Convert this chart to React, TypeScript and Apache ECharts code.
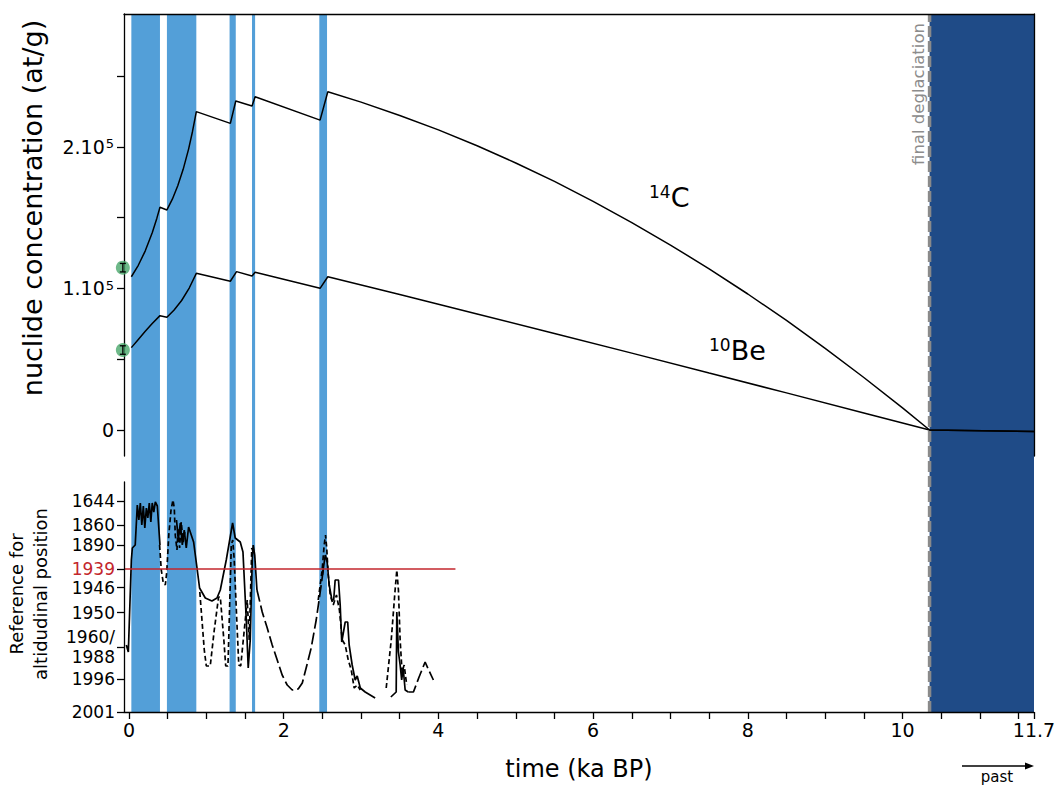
import React, { useEffect, useRef } from 'react';
import * as echarts from 'echarts';

const FONT = 'DejaVu Sans';
const X_MIN = -0.065;
const X_MAX = 11.7;
const DEGLACIATION = 10.35;

// shaded periods (ka BP)
const lightBands = [[0.03, 0.40], [0.49, 0.87], [1.30, 1.38], [1.59, 1.63], [2.46, 2.56]];
const darkBands = [[10.35, 11.7]];

// nuclide concentrations (x: ka BP, y: 1e5 at/g)
const c14 = [
  [0.03, 1.083], [0.12, 1.164], [0.21, 1.266], [0.30, 1.394], [0.36, 1.497], [0.40, 1.574], [0.49, 1.555],
  [0.56, 1.631], [0.63, 1.726], [0.70, 1.842], [0.77, 1.985], [0.82, 2.108], [0.87, 2.25], [1.31, 2.167],
  [1.38, 2.325], [1.59, 2.29], [1.63, 2.355], [2.47, 2.19], [2.57, 2.39], [3.0, 2.317],
  [3.5, 2.223], [4.0, 2.121], [4.5, 2.009], [5.0, 1.887], [5.5, 1.757], [6.0, 1.616],
  [6.5, 1.466], [7.0, 1.307], [7.5, 1.139], [8.0, 0.961], [8.5, 0.774], [9.0, 0.577],
  [9.5, 0.371], [10.0, 0.156], [10.35, 0], [11.7, -0.01],
];
const be10 = [
  [0.03, 0.582], [0.12, 0.64], [0.21, 0.697], [0.30, 0.752], [0.40, 0.808], [0.49, 0.796], [0.58, 0.846],
  [0.68, 0.915], [0.78, 1.005], [0.87, 1.107], [1.31, 1.051], [1.39, 1.119], [1.59, 1.088], [1.63, 1.114],
  [2.47, 1.001], [2.57, 1.083], [3.5, 0.957], [4.5, 0.82], [5.5, 0.682], [6.5, 0.543],
  [7.5, 0.402], [8.5, 0.262], [9.5, 0.12], [10.35, 0], [11.7, -0.01],
];
// measured samples: x, value (1e5 at/g), error (1e5 at/g)
const measured = [[-0.08, 1.147, 0.03], [-0.08, 0.565, 0.03]];

const concTicks = [0, 50000, 100000, 150000, 200000, 250000];
const concLabels = [0, 100000, 200000];

// altitudinal reference axis (positions on the axis scale)
const levelTicks = [0, 32.7, 64.7, 99.3, 124.3, 143, 167, 187, 211];
const levelLabels = ['2001', '1996', '1960/\n1988', '1950', '1946', '1939', '1890', '1860', '1644'];
const refLevel = 143;
const refLineEnd = 4.22;

const solidSegments = [
  [[-0.035, 67], [-0.009, 60], [0.03, 152], [0.043, 164], [0.08, 167], [0.107, 207], [0.127, 192], [0.146, 209], [0.165, 187], [0.185, 206], [0.204, 184], [0.224, 204], [0.243, 194], [0.262, 209], [0.282, 190], [0.30, 209], [0.32, 200], [0.34, 210], [0.366, 206], [0.378, 192], [0.40, 167]],
  [[0.614, 192], [0.637, 172], [0.663, 189], [0.689, 167], [0.714, 182], [0.74, 164], [0.77, 185], [0.835, 170], [0.879, 144], [0.912, 124], [0.986, 114], [1.072, 111], [1.137, 114], [1.18, 122], [1.257, 152], [1.339, 189], [1.373, 174], [1.438, 170], [1.473, 160], [1.516, 92], [1.541, 44], [1.567, 72], [1.593, 152], [1.606, 167], [1.625, 157], [1.654, 122]],
  [[2.50, 137], [2.537, 157], [2.562, 150], [2.588, 127], [2.623, 112], [2.646, 112], [2.665, 132], [2.708, 132], [2.73, 107], [2.75, 70], [2.795, 90], [2.827, 90], [2.846, 67], [2.885, 47], [2.924, 32], [2.95, 36], [2.99, 24], [3.053, 20], [3.182, 14]],
  [[3.385, 15], [3.454, 20], [3.462, 100], [3.483, 60], [3.505, 47], [3.525, 32], [3.544, 44], [3.57, 22], [3.61, 20]],
];
const dashedSegments = [
  [[0.395, 167], [0.417, 142], [0.443, 129], [0.469, 127], [0.488, 140], [0.514, 177], [0.543, 202], [0.568, 212], [0.585, 204], [0.598, 177], [0.62, 162], [0.633, 184], [0.654, 164], [0.675, 190], [0.70, 170], [0.72, 180]],
  [[0.915, 120], [0.973, 62], [0.999, 46], [1.05, 46], [1.102, 82], [1.158, 115], [1.18, 115], [1.226, 72], [1.25, 46], [1.279, 46], [1.296, 92], [1.322, 167], [1.341, 172], [1.36, 152], [1.393, 92], [1.419, 47], [1.444, 46], [1.477, 72], [1.503, 92], [1.528, 112], [1.554, 72], [1.587, 164], [1.606, 160]],
  [[2.446, 112], [2.497, 142], [2.523, 167], [2.54, 177], [2.556, 164], [2.575, 137], [2.601, 117], [2.64, 107], [2.682, 117], [2.72, 102], [2.757, 72], [2.795, 67], [2.834, 52], [2.873, 42], [2.911, 24], [2.95, 27], [2.99, 22]],
  [[3.325, 24], [3.39, 72], [3.44, 122], [3.462, 142], [3.483, 122], [3.505, 72], [3.53, 40], [3.557, 47], [3.59, 27]],
];
const longDashSegments = [
  [[1.654, 122], [1.722, 100], [1.787, 84], [1.851, 67], [1.916, 52], [1.98, 37], [2.045, 27], [2.11, 22], [2.187, 23], [2.24, 29], [2.29, 44], [2.355, 64], [2.42, 92], [2.472, 120], [2.511, 142]],
  [[3.61, 20], [3.677, 20], [3.75, 35], [3.828, 50], [3.88, 41], [3.935, 32]],
];

const xTicks = [0, 0.5, 1, 1.5, 2, 2.5, 3, 3.5, 4, 4.5, 5, 5.5, 6, 6.5, 7, 7.5, 8, 8.5, 9, 9.5, 10, 10.5, 11, 11.5, 11.7];
const xLabels = [0, 2, 4, 6, 8, 10, 11.7];

const LIGHT = '#539fd8';
const DARK = '#1f4b87';
const RED = '#c3262c';

export default function App() {
  const ref = useRef<HTMLDivElement>(null);
  useEffect(() => {
    const chart = echarts.init(ref.current!, undefined, { renderer: 'svg' });
    const axisLine = { show: true, onZero: false, lineStyle: { color: '#000', width: 1.3 } };
    const tickStyle = { color: '#000', width: 1.3 };
    const bandSeries = (data: number[][], color: string) => ({
      type: 'custom', xAxisIndex: 2, yAxisIndex: 3, z: 1, silent: true,
      data,
      renderItem: (_p: any, api: any) => {
        const a = api.coord([api.value(0), 1]);
        const b = api.coord([api.value(1), 0]);
        return { type: 'rect', shape: { x: a[0], y: a[1], width: b[0] - a[0], height: b[1] - a[1] }, style: { fill: color } };
      },
    });
    const seg = (segs: number[][][], type: any) => segs.map((d) => ({
      type: 'line', xAxisIndex: 1, yAxisIndex: 2, z: 5, data: d, symbol: 'none',
      lineStyle: { color: '#000', width: 1.7, type },
    }));
    const option: any = {
      animation: false,
      grid: [
        { left: 124, right: 25, top: 14, height: 442, outerBoundsMode: 'none' },
        { left: 124, right: 25, top: 482, height: 230, outerBoundsMode: 'none' },
        { left: 124, right: 25, top: 14, height: 698, outerBoundsMode: 'none' },
      ],
      xAxis: [
        { gridIndex: 0, type: 'value', min: X_MIN, max: X_MAX, position: 'top', z: 8, axisLine, axisTick: { show: false }, axisLabel: { show: false }, splitLine: { show: false } },
        {
          gridIndex: 1, type: 'value', min: X_MIN, max: X_MAX, position: 'bottom', z: 8, axisLine,
          axisTick: { show: true, customValues: xTicks, length: 7, lineStyle: tickStyle },
          axisLabel: { customValues: xLabels, formatter: (v: number) => String(Math.round(v * 10) / 10), fontSize: 19, fontFamily: FONT, color: '#000', margin: 8 },
          splitLine: { show: false },
          name: 'time (ka BP)', nameLocation: 'middle', nameGap: 45,
          nameTextStyle: { fontSize: 24, fontFamily: FONT, color: '#000' },
        },
        { gridIndex: 2, type: 'value', min: X_MIN, max: X_MAX, show: false },
      ],
      yAxis: [
        {
          gridIndex: 0, type: 'value', min: -18400, max: 294000, position: 'left', z: 8, axisLine,
          axisTick: { show: true, customValues: concTicks, length: 7, lineStyle: tickStyle },
          axisLabel: {
            customValues: concLabels,
            formatter: (v: number) => (v === 0 ? '0' : `{b|${Math.round(v / 1e5)}.10}{s|5}`),
            fontSize: 19, fontFamily: FONT, color: '#000', margin: 10,
            rich: {
              b: { fontSize: 19, fontFamily: FONT, color: '#000' },
              s: { fontSize: 13, fontFamily: FONT, color: '#000', verticalAlign: 'top', padding: [0, 0, 0, 1] },
            },
          },
          splitLine: { show: false },
        },
        { gridIndex: 0, type: 'value', min: -18400, max: 294000, position: 'right', z: 8, axisLine, axisTick: { show: false }, axisLabel: { show: false }, splitLine: { show: false } },
        {
          gridIndex: 1, type: 'value', min: 0, max: 230, position: 'left', z: 8, axisLine,
          axisTick: { show: true, customValues: levelTicks, length: 7, lineStyle: tickStyle },
          axisLabel: {
            customValues: levelTicks,
            formatter: (v: number) => {
              const i = levelTicks.findIndex((t) => Math.abs(t - v) < 0.01);
              if (i < 0) return '';
              return levelTicks[i] === refLevel ? `{red|${levelLabels[i]}}` : levelLabels[i];
            },
            fontSize: 17, fontFamily: FONT, color: '#000', margin: 9, lineHeight: 20,
            rich: { red: { color: RED, fontSize: 17, fontFamily: FONT } },
          },
          splitLine: { show: false },
        },
        { gridIndex: 2, type: 'value', min: 0, max: 1, show: false },
      ],
      series: [
        bandSeries(lightBands, LIGHT),
        bandSeries(darkBands, DARK),
        {
          type: 'line', xAxisIndex: 2, yAxisIndex: 3, z: 2, symbol: 'none', silent: true,
          data: [[DEGLACIATION, 0], [DEGLACIATION, 1]],
          lineStyle: { color: '#8a8a8a', width: 3.5, type: [11, 4] },
        },
        {
          type: 'line', xAxisIndex: 0, yAxisIndex: 0, z: 5, symbol: 'none', name: '14C',
          data: c14.map(([x, y]) => [x, y * 1e5]), lineStyle: { color: '#000', width: 1.5 },
        },
        {
          type: 'line', xAxisIndex: 0, yAxisIndex: 0, z: 5, symbol: 'none', name: '10Be',
          data: be10.map(([x, y]) => [x, y * 1e5]), lineStyle: { color: '#000', width: 1.5 },
        },
        {
          type: 'scatter', xAxisIndex: 0, yAxisIndex: 0, z: 9, clip: false, symbolSize: 14,
          data: measured.map(([x, y]) => [x, y * 1e5]), itemStyle: { color: '#4aa86b' },
        },
        {
          type: 'custom', xAxisIndex: 0, yAxisIndex: 0, z: 10, clip: false,
          data: measured.map(([x, y, e]) => [x, y * 1e5, e * 1e5]),
          renderItem: (_p: any, api: any) => {
            const x = api.value(0), y = api.value(1), e = api.value(2);
            const t = api.coord([x, y + e]);
            const b = api.coord([x, y - e]);
            const st = { stroke: '#000', lineWidth: 1.3 };
            return {
              type: 'group', children: [
                { type: 'line', shape: { x1: t[0], y1: t[1], x2: b[0], y2: b[1] }, style: st },
                { type: 'line', shape: { x1: t[0] - 3, y1: t[1], x2: t[0] + 3, y2: t[1] }, style: st },
                { type: 'line', shape: { x1: b[0] - 3, y1: b[1], x2: b[0] + 3, y2: b[1] }, style: st },
              ],
            };
          },
        },
        {
          type: 'line', xAxisIndex: 1, yAxisIndex: 2, z: 6, symbol: 'none',
          data: [[X_MIN, refLevel], [refLineEnd, refLevel]], lineStyle: { color: RED, width: 1.5 },
        },
        ...seg(solidSegments, 'solid'),
        ...seg(dashedSegments, [5, 3]),
        ...seg(longDashSegments, [12, 4]),
      ],
      graphic: [
        { type: 'text', x: 32, y: 208, rotation: Math.PI / 2, style: { text: 'nuclide concentration (at/g)', font: `27px "${FONT}"`, fill: '#000', align: 'center', verticalAlign: 'middle' } },
        { type: 'text', x: 28, y: 594, rotation: Math.PI / 2, style: { text: 'Reference for\naltidudinal position', font: `18px "${FONT}"`, fill: '#000', align: 'center', verticalAlign: 'middle', lineHeight: 24 } },
        { type: 'text', x: 918, y: 94, rotation: Math.PI / 2, style: { text: 'final deglaciation', font: `16.5px "${FONT}"`, fill: '#8c8c8c', align: 'center', verticalAlign: 'middle' } },
        {
          type: 'text', x: 649, y: 197,
          style: {
            text: '{s|14}{b|C}', align: 'left', verticalAlign: 'middle',
            rich: {
              s: { fontSize: 17, fontFamily: FONT, fill: '#000', verticalAlign: 'top' },
              b: { fontSize: 27, fontFamily: FONT, fill: '#000' },
            },
          },
        },
        {
          type: 'text', x: 709, y: 350,
          style: {
            text: '{s|10}{b|Be}', align: 'left', verticalAlign: 'middle',
            rich: {
              s: { fontSize: 17, fontFamily: FONT, fill: '#000', verticalAlign: 'top' },
              b: { fontSize: 27, fontFamily: FONT, fill: '#000' },
            },
          },
        },
        { type: 'text', x: 997, y: 777, style: { text: 'past', font: `15px "${FONT}"`, fill: '#000', align: 'center', verticalAlign: 'middle' } },
        { type: 'line', shape: { x1: 962, y1: 766, x2: 1027, y2: 766 }, style: { stroke: '#000', lineWidth: 1.5 } },
        { type: 'polygon', shape: { points: [[1034, 766], [1025, 762.5], [1025, 769.5]] }, style: { fill: '#000' } },
      ],
    };
    chart.setOption(option);
    return () => chart.dispose();
  }, []);
  return <div ref={ref} style={{ position: 'absolute', left: 0, top: 0, width: 1059, height: 785 }} />;
}
